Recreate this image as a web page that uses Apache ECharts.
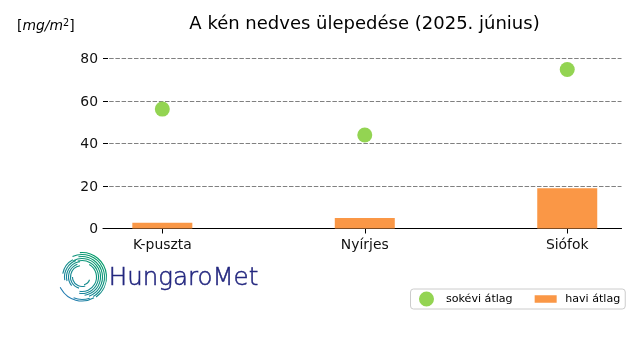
<!DOCTYPE html>
<html><head><meta charset="utf-8">
<style>html,body{margin:0;padding:0;background:#fff}#c{width:640px;height:360px}</style>
<script src="https://cdn.jsdelivr.net/npm/echarts@6/dist/echarts.min.js"></script>
</head><body><div id="c"></div>
<script>
const categories = ['K-puszta', 'Nyírjes', 'Siófok'];
const sokeviAtlag = [56.2, 44, 74.8];
const haviAtlag = [2.7, 4.9, 19];
const yTicks = [0, 20, 40, 60, 80];
const FONT = '"DejaVu Sans"';
const positions = categories.map((_, i) => i);
const chart = echarts.init(document.getElementById('c'), null, {renderer: 'canvas'});
const grad = {type:'linear', x:105, y:255, x2:65, y2:300, global:true,
  colorStops:[{offset:0,color:'#00a060'},{offset:0.55,color:'#158c8c'},{offset:1,color:'#2478b8'}]};
const deg = d => d * Math.PI / 180;
const cx = 82, cy = 277;
// logo arcs: [radius, startDeg, endDeg]
const arcs = [
  [24.5,-95,55],[22.5,-115,60],[20.5,-100,70],[18.5,-118,82],[16.5,-105,100],[14.5,-60,100],
  [24,60,155],[22.5,70,112],
  [19.5,-170,-118],[17.5,170,250],[15.5,165,262],[13.5,140,250],[11.5,105,260],[9.5,70,180],[8,20,75]
];
const logo = arcs.map(a => ({
  type:'arc', silent:true,
  shape:{cx, cy, r:a[0], startAngle:deg(a[1]), endAngle:deg(a[2]), clockwise:true},
  style:{fill:null, stroke:grad, lineWidth:1.1}
}));
chart.setOption({
  animation:false,
  backgroundColor:'#fff',
  title:[
    {text:'A kén nedves ülepedése (2025. június)', left:359.5, top:10, textAlign:'center',
     textStyle:{fontFamily:FONT, fontSize:18, fontWeight:'normal', color:'#000'}},
    {text:'{a|[}{i|mg/m}{s|2}{a|]}', left:12, top:13,
     textStyle:{fontWeight:'normal', rich:{
       a:{fontFamily:FONT, fontSize:13.9, fontWeight:'normal', color:'#000'},
       i:{fontFamily:FONT, fontSize:13.9, fontWeight:'normal', fontStyle:'italic', color:'#000'},
       s:{fontFamily:FONT, fontSize:9.7, fontWeight:'normal', color:'#000', verticalAlign:'top', padding:[0,0,6,0]}
     }}}
  ],
  legend:{
    left:410.5, top:289, orient:'horizontal', padding:[2.5,5,2.5,5],
    itemWidth:22, itemHeight:15, itemGap:22,
    backgroundColor:'#fff', borderColor:'#cccccc', borderWidth:1, borderRadius:3,
    textStyle:{fontFamily:FONT, fontSize:11.1, color:'#000', padding:[0,0,0,3.5]},
    data:[
      {name:'sokévi átlag', icon:'path://M0 0L0 0ZM3.5 7.5A7.5 7.5 0 1 1 18.5 7.5A7.5 7.5 0 1 1 3.5 7.5ZM22 15L22 15Z'},
      {name:'havi átlag', icon:'path://M0 0L0 0ZM0 3.7H22V11.3H0ZM22 15L22 15Z'}
    ]
  },
  grid:{left:103, right:18.5, top:58.5, bottom:131.5},
  xAxis:{
    type:'value', min:-0.293, max:2.268,
    splitLine:{show:false},
    axisLine:{show:true, onZero:true, lineStyle:{color:'#000', width:1.1}},
    axisTick:{show:true, length:5, customValues:positions, lineStyle:{color:'#000', width:1}},
    axisLabel:{customValues:positions, margin:9.5, fontFamily:FONT, fontSize:13.9, color:'#111',
      formatter:v => categories[Math.round(v)]}
  },
  yAxis:{
    type:'value', min:0, max:80, interval:20,
    axisLine:{show:false, onZero:false},
    axisTick:{show:true, inside:true, length:5, lineStyle:{color:'#000', width:1}},
    axisLabel:{margin:5, fontFamily:FONT, fontSize:13.9, color:'#111', verticalAlign:'top', lineHeight:2},
    splitLine:{show:true, lineStyle:{color:'#808080', width:1, type:[4.5,1.7]}}
  },
  series:[
    {name:'sokévi átlag', type:'scatter', symbol:'circle', symbolSize:15, z:5,
     itemStyle:{color:'#93d452', opacity:1},
     data:positions.map(i => [i, sokeviAtlag[i]])},
    {name:'havi átlag', type:'bar', barWidth:60, z:3,
     itemStyle:{color:'#fa9746'},
     data:positions.map(i => [i, haviAtlag[i]])}
  ],
  graphic:{elements:logo.concat([
    {type:'text', silent:true, left:108.5, top:266,
     style:{text:'HungaroMet', fill:'#23277f', stroke:'#23277f', lineWidth:0.5, font:'200 24.5px "DejaVu Sans"'}}
  ])}
});
</script></body></html>
